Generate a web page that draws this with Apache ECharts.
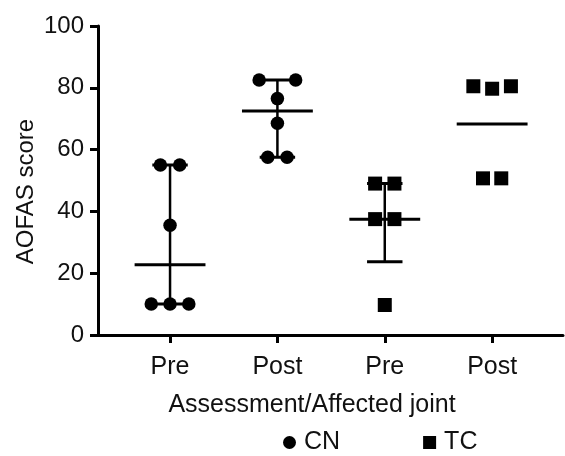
<!DOCTYPE html>
<html><head><meta charset="utf-8">
<script src="https://cdn.jsdelivr.net/npm/echarts@6/dist/echarts.min.js"></script>
<style>html,body{margin:0;padding:0;background:#fff}#c{width:565px;height:456px}</style>
</head><body><div id="c"></div>
<script>
const categories = ['Pre', 'Post', 'Pre', 'Post'];
const categoryPos = [1, 2, 3, 4];
// CN group (circles)
const cnCat    = [1, 1, 1, 1, 1, 1, 2, 2, 2, 2, 2, 2];
const cnValue  = [55, 55, 35.5, 10, 10, 10, 82.5, 82.5, 76.5, 68.5, 57.5, 57.5];
const cnSpread = [-0.09, 0.09, 0, -0.175, 0, 0.175, -0.17, 0.17, 0, 0, -0.09, 0.09];
// TC group (squares)
const tcCat    = [3, 3, 3, 3, 3, 4, 4, 4, 4, 4];
const tcValue  = [49, 49, 37.5, 37.5, 9.7, 80.5, 79.7, 80.5, 50.7, 50.7];
const tcSpread = [-0.09, 0.09, -0.09, 0.09, 0, -0.175, 0, 0.175, -0.085, 0.085];
// summary per category: centre line, lower / upper whisker (null = not drawn)
const centreLine = [22.7, 72.5, 37.5, 68.3];
const lowerBar   = [10, 57.5, 23.7, null];
const upperBar   = [55, 82.5, 49, null];

const FONT = 'Liberation Sans';
const INK = '#000';

const cnData = cnValue.map((v, i) => [cnCat[i] + cnSpread[i], v]);
const tcData = tcValue.map((v, i) => [tcCat[i] + tcSpread[i], v]);
const summaryData = categoryPos.map((x, i) => [x, centreLine[i],
  lowerBar[i] == null ? -1 : lowerBar[i], upperBar[i] == null ? -1 : upperBar[i]]);

const chart = echarts.init(document.getElementById('c'), null, {renderer: 'canvas'});
chart.setOption({
  animation: false,
  backgroundColor: '#fff',
  textStyle: {fontFamily: FONT, color: '#111'},
  grid: {left: 98, right: 2, top: 26, bottom: 121, containLabel: false},
  legend: {
    left: 278, top: 425, itemWidth: 19, itemHeight: 13, itemGap: 83,
    symbolKeepAspect: true,
    data: [{name: 'CN', icon: 'circle'}, {name: 'TC', icon: 'path://M0,0L12,0L12,12L0,12Z'}],
    itemStyle: {opacity: 1, color: INK},
    textStyle: {fontFamily: FONT, fontSize: 25, color: '#111'}
  },
  xAxis: {
    type: 'value', min: 0.329, max: 4.66,
    name: 'Assessment/Affected joint', nameLocation: 'middle', nameGap: 58,
    nameMoveOverlap: false,
    nameTextStyle: {fontFamily: FONT, fontSize: 25, color: '#111', padding: [0, 37, 0, 0]},
    axisLine: {show: true, lineStyle: {color: INK, width: 3}},
    axisTick: {show: true, length: 8, lineStyle: {color: INK, width: 3}, customValues: categoryPos},
    axisLabel: {fontFamily: FONT, fontSize: 25, color: '#111', margin: 20, customValues: categoryPos,
      formatter: v => categories[Math.round(v) - 1] || ''},
    splitLine: {show: false}
  },
  yAxis: {
    type: 'value', min: 0, max: 100, interval: 20,
    name: 'AOFAS score', nameLocation: 'middle', nameGap: 60, nameRotate: 90,
    nameMoveOverlap: false,
    nameTextStyle: {fontFamily: FONT, fontSize: 24, color: '#111', padding: [0, 22, 0, 0]},
    axisLine: {show: true, lineStyle: {color: INK, width: 3}},
    axisTick: {show: true, length: 8, lineStyle: {color: INK, width: 3}},
    axisLabel: {fontFamily: FONT, fontSize: 24, color: '#111', margin: 14},
    splitLine: {show: false}
  },
  series: [
    {
      type: 'custom', name: 'summary', silent: true, z: 1,
      encode: {x: 0, y: [1, 2, 3]},
      data: summaryData,
      renderItem: function (params, api) {
        const x = api.value(0), m = api.value(1), lo = api.value(2), hi = api.value(3);
        const seg = (x1, y1, x2, y2, w) => {
          const a = api.coord([x1, y1]), b = api.coord([x2, y2]);
          return {type: 'line', shape: {x1: a[0], y1: a[1], x2: b[0], y2: b[1]},
            style: {stroke: INK, lineWidth: w, fill: null}};
        };
        const children = [seg(x - 0.33, m, x + 0.33, m, 3)];
        if (lo >= 0 && hi >= 0) {
          children.push(seg(x, lo, x, hi, 2.5));
          children.push(seg(x - 0.165, lo, x + 0.165, lo, 3));
          children.push(seg(x - 0.165, hi, x + 0.165, hi, 3));
        }
        return {type: 'group', children: children};
      }
    },
    {
      type: 'scatter', name: 'CN', symbol: 'circle', symbolSize: 13.5, z: 3,
      itemStyle: {color: INK, opacity: 1}, data: cnData
    },
    {
      type: 'scatter', name: 'TC', symbol: 'rect', symbolSize: 14, z: 3,
      itemStyle: {color: INK, opacity: 1}, data: tcData
    }
  ]
});
</script></body></html>
